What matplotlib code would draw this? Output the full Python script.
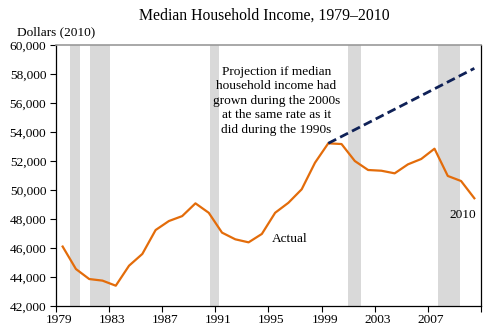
import numpy as np
import matplotlib
matplotlib.use("Agg")
import matplotlib.pyplot as plt

plt.rcParams['font.family'] = ['Liberation Serif', 'DejaVu Serif']

# median household income, 2010 dollars
years = list(range(1979, 2011))
income = [46100, 44550, 43860, 43750, 43400, 44780, 45590, 47240, 47860, 48200,
          49080, 48430, 47060, 46600, 46390, 46970, 48430, 49120, 50050, 51880,
          53220, 53170, 52000, 51380, 51330, 51150, 51770, 52140, 52850, 50970,
          50620, 49430]

# 1990s growth rate carried forward from 1999
proj_years = [1999, 2010]
proj_income = [53220, 58390]

# recessions (start, end) on the category scale
recessions = [(1979.55, 1980.3), (1981.05, 1982.53), (1990.06, 1990.79),
              (2000.52, 2001.5), (2007.25, 2008.95)]

tick_years = list(range(1979, 2011, 4))
ytick_vals = list(range(42000, 60001, 2000))

fig = plt.figure(figsize=(4.9, 3.36), dpi=100)
ax = fig.add_axes([0.1143, 0.0893, 0.8673, 0.7767])

for start, end in recessions:
    ax.axvspan(start, end, color='#d9d9d9', lw=0, zorder=0)

ax.plot(years, income, color='#e36c0a', lw=1.6, zorder=3)
ax.plot(proj_years, proj_income, color='#0f2157', lw=2.0, ls=(0, (3.2, 1.6)), zorder=3)

ax.set_xlim(1978.5, 2010.5)
ax.set_ylim(42000, 60000)

# tick marks at category boundaries, labels just right of them
ax.set_xticks([y - 0.5 for y in tick_years] + [2010.5])
ax.set_xticklabels([])
ax.set_xticks([y - 0.27 for y in tick_years], minor=True)
ax.set_xticklabels([str(y) for y in tick_years], minor=True, fontsize=9.6)
ax.tick_params(axis='x', which='major', direction='out', length=4, width=0.8)
ax.tick_params(axis='x', which='minor', length=0, pad=6)

ax.set_yticks(ytick_vals)
ax.set_yticklabels([f'{v:,}' for v in ytick_vals], fontsize=9.6)
ax.tick_params(axis='y', direction='out', length=4, width=0.8, pad=3)

ax.spines['top'].set_color('#999999')
ax.spines['top'].set_linewidth(1.2)
for side in ['left', 'bottom', 'right']:
    ax.spines[side].set_linewidth(0.9)

fig.text(0.539, 0.953, 'Median Household Income, 1979\u20132010', ha='center',
         va='center', fontsize=11.3)
fig.text(0.114, 0.903, 'Dollars (2010)', ha='center', va='center', fontsize=9.6)

ax.text(1995.1, 56150,
        'Projection if median\nhousehold income had\ngrown during the 2000s\n'
        'at the same rate as it\ndid during the 1990s',
        ha='center', va='center', fontsize=9.6, linespacing=1.27)
ax.text(1996.1, 46600, 'Actual', ha='center', va='center', fontsize=9.6)
ax.text(2009.1, 48300, '2010', ha='center', va='center', fontsize=9.6)

fig.savefig('out.png', dpi=100)
